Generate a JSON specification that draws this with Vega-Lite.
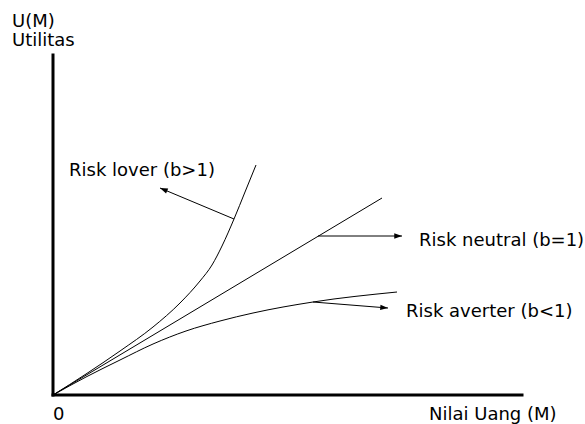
{
  "$schema": "https://vega.github.io/schema/vega-lite/v6.json",
  "width": 585,
  "height": 424,
  "padding": 0,
  "autosize": {"type": "none"},
  "background": "white",
  "config": {"view": {"stroke": null}},
  "datasets": {
    "axes": [
      {"part": "y", "x": 0, "y": 0, "x2": 0, "y2": 340},
      {"part": "x", "x": 0, "y": 0, "x2": 469, "y2": 0}
    ],
    "curves": [
      {"series": "lover", "x": 0, "y": 0},
      {"series": "lover", "x": 33, "y": 21},
      {"series": "lover", "x": 67, "y": 44},
      {"series": "lover", "x": 100, "y": 68},
      {"series": "lover", "x": 127, "y": 92},
      {"series": "lover", "x": 147, "y": 114},
      {"series": "lover", "x": 159, "y": 130},
      {"series": "lover", "x": 169, "y": 149},
      {"series": "lover", "x": 181, "y": 176},
      {"series": "lover", "x": 192, "y": 203},
      {"series": "lover", "x": 203, "y": 230},
      {"series": "neutral", "x": 0, "y": 0},
      {"series": "neutral", "x": 329, "y": 197},
      {"series": "averter", "x": 0, "y": 0},
      {"series": "averter", "x": 33, "y": 18},
      {"series": "averter", "x": 67, "y": 35},
      {"series": "averter", "x": 100, "y": 51},
      {"series": "averter", "x": 133, "y": 64},
      {"series": "averter", "x": 167, "y": 74},
      {"series": "averter", "x": 200, "y": 82},
      {"series": "averter", "x": 260, "y": 93},
      {"series": "averter", "x": 344, "y": 103}
    ],
    "arrows": [
      {"arrow": "lover", "x": 181, "y": 176},
      {"arrow": "lover", "x": 107, "y": 207},
      {"arrow": "neutral", "x": 265, "y": 159},
      {"arrow": "neutral", "x": 349, "y": 159},
      {"arrow": "averter", "x": 260, "y": 93},
      {"arrow": "averter", "x": 335, "y": 87}
    ],
    "heads": [
      {"arrow": "lover", "x": 107, "y": 207},
      {"arrow": "neutral", "x": 349, "y": 159},
      {"arrow": "averter", "x": 335, "y": 87}
    ],
    "labels": [
      {"label": "U(M)", "x": -41, "y": 368},
      {"label": "Utilitas", "x": -41, "y": 349},
      {"label": "Risk lover (b>1)", "x": 16, "y": 219},
      {"label": "Risk neutral (b=1)", "x": 366, "y": 149},
      {"label": "Risk averter (b<1)", "x": 353, "y": 78},
      {"label": "0", "x": 0, "y": -25},
      {"label": "Nilai Uang (M)", "x": 376, "y": -25}
    ]
  },
  "layer": [
    {
      "data": {"name": "axes"},
      "mark": {"type": "rule", "color": "black", "strokeWidth": 3, "strokeCap": "square"},
      "encoding": {
        "x": {"field": "x", "type": "quantitative", "scale": {"domain": [-53, 532], "nice": false, "zero": false}, "axis": null},
        "y": {"field": "y", "type": "quantitative", "scale": {"domain": [-29, 395], "nice": false, "zero": false}, "axis": null},
        "x2": {"field": "x2"},
        "y2": {"field": "y2"}
      }
    },
    {
      "data": {"name": "curves"},
      "mark": {"type": "line", "color": "black", "strokeWidth": 1, "interpolate": "monotone"},
      "encoding": {
        "x": {"field": "x", "type": "quantitative"},
        "y": {"field": "y", "type": "quantitative"},
        "detail": {"field": "series"}
      }
    },
    {
      "data": {"name": "arrows"},
      "mark": {"type": "line", "color": "black", "strokeWidth": 1},
      "encoding": {
        "x": {"field": "x", "type": "quantitative"},
        "y": {"field": "y", "type": "quantitative"},
        "detail": {"field": "arrow"}
      }
    },
    {
      "data": {"name": "heads"},
      "transform": [{"filter": "datum.arrow === 'lover'"}],
      "mark": {"type": "point", "shape": "M0,0 L-2,-0.7 L-2,0.7 Z", "filled": true, "color": "black", "size": 60, "opacity": 1, "angle": 203},
      "encoding": {
        "x": {"field": "x", "type": "quantitative"},
        "y": {"field": "y", "type": "quantitative"}
      }
    },
    {
      "data": {"name": "heads"},
      "transform": [{"filter": "datum.arrow === 'neutral'"}],
      "mark": {"type": "point", "shape": "M0,0 L-2,-0.7 L-2,0.7 Z", "filled": true, "color": "black", "size": 60, "opacity": 1, "angle": 0},
      "encoding": {
        "x": {"field": "x", "type": "quantitative"},
        "y": {"field": "y", "type": "quantitative"}
      }
    },
    {
      "data": {"name": "heads"},
      "transform": [{"filter": "datum.arrow === 'averter'"}],
      "mark": {"type": "point", "shape": "M0,0 L-2,-0.7 L-2,0.7 Z", "filled": true, "color": "black", "size": 60, "opacity": 1, "angle": 4.6},
      "encoding": {
        "x": {"field": "x", "type": "quantitative"},
        "y": {"field": "y", "type": "quantitative"}
      }
    },
    {
      "data": {"name": "labels"},
      "mark": {"type": "text", "align": "left", "baseline": "alphabetic", "font": "DejaVu Sans", "fontSize": 18, "color": "black"},
      "encoding": {
        "x": {"field": "x", "type": "quantitative"},
        "y": {"field": "y", "type": "quantitative"},
        "text": {"field": "label"}
      }
    }
  ]
}
